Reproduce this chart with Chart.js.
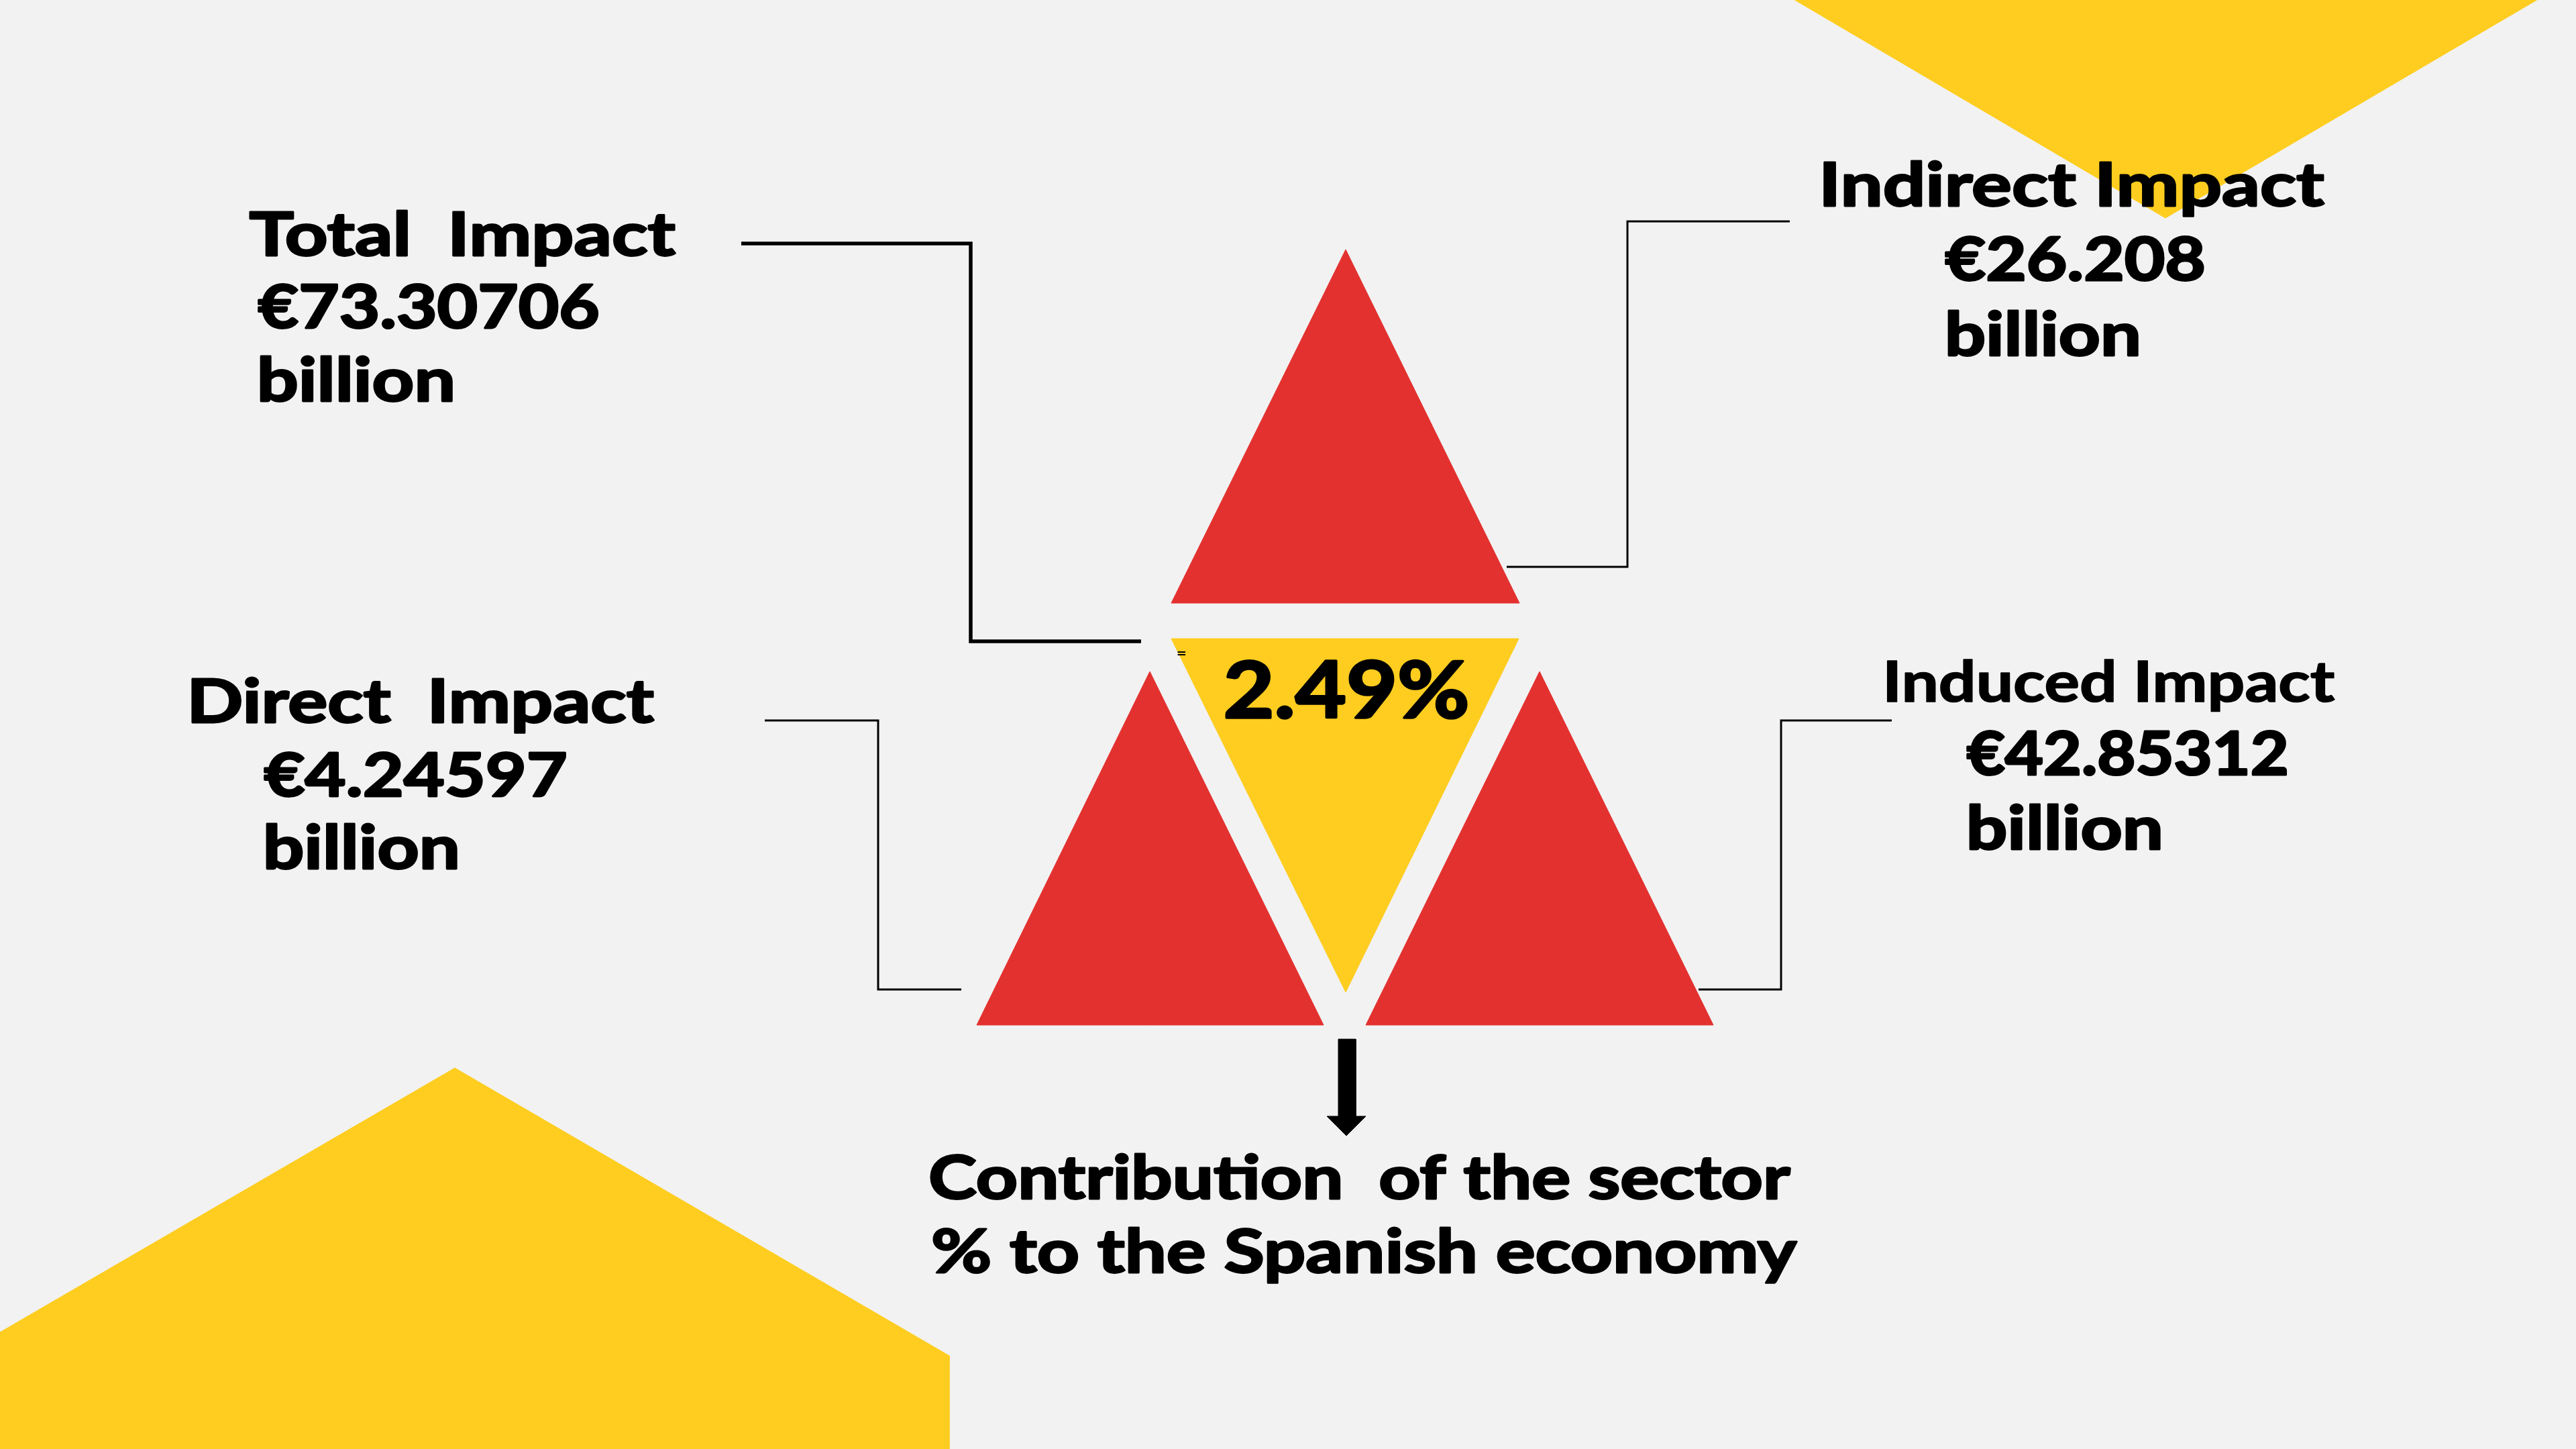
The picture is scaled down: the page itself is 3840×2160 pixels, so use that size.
<!DOCTYPE html>
<html lang="en">
<head>
    <meta charset="UTF-8">
    <title>Economic impact of the sector</title>
    <script src="https://cdn.jsdelivr.net/npm/chart.js"></script>
    <style>
        html, body { margin: 0; padding: 0; background: #f2f2f2; overflow: hidden; }
        #wrap { width: 3840px; height: 2160px; }
    </style>
</head>
<body>
    <div id="wrap"><canvas id="impactChart" width="3840" height="2160"></canvas></div>

    <script>
        // --- data ---
        const impactLabels = ['Total  Impact', 'Indirect Impact', 'Direct  Impact', 'Induced Impact'];
        const impactValues = [73.30706, 26.208, 4.24597, 42.85312];
        const impactUnit = 'billion';
        const sectorShare = 2.49;
        const footerLines = ['Contribution  of the sector', '% to the Spanish economy'];

        // --- layout (canvas units, y down) ---
        const RED = '#e3312f';
        const YELLOW = '#fecd1f';

        const shapes = [
            { pts: [[2006, 372], [2265, 899], [1746, 899]], color: RED },
            { pts: [[1746, 952], [2264, 952], [2006, 1479]], color: YELLOW },
            { pts: [[1714, 1001], [1973, 1528], [1456, 1528]], color: RED },
            { pts: [[2295, 1001], [2554, 1528], [2036, 1528]], color: RED },
            { pts: [[2667, -5], [3790, -5], [3228, 325]], color: YELLOW },
            { pts: [[0, 1986], [678, 1592], [1415, 2021], [1415, 2165], [0, 2165]], color: YELLOW },
            { pts: [[1995, 1549], [2021, 1549], [2021, 1666], [1995, 1666]], color: '#000' },
            { pts: [[1978, 1664], [2036, 1664], [2007, 1693]], color: '#000' }
        ];

        // connector lines: total, indirect, direct, induced
        const connectors = [
            { pts: [[1105, 363], [1447, 363], [1447, 956], [1701, 956]], width: 5.5 },
            { pts: [[2668, 330], [2426, 330], [2426, 845], [2246, 845]], width: 3 },
            { pts: [[1140, 1074], [1309, 1074], [1309, 1475], [1433, 1475]], width: 3 },
            { pts: [[2820, 1074], [2655, 1074], [2655, 1475], [2532, 1475]], width: 3 }
        ];

        // [left, baseline, ink width]
        const labelPos = [[371, 383, 637], [2718, 309, 748], [285, 1079, 691], [2812, 1047, 669]];
        const valuePos = [[384, 491, 509], [2899, 420, 387], [393, 1189, 452], [2931, 1157, 479]];
        const unitPos = [[387, 600, 288], [2903, 532, 285], [396, 1297, 286], [2935, 1268, 286]];
        const sharePos = [1826, 1072, 362];
        const footerPos = [[1386, 1789, 1284], [1390, 1899, 1290]];

        const FONT = 'Lato, "Open Sans", sans-serif';

        const texts = [];
        impactLabels.forEach((lab, i) => {
            texts.push({ text: lab, pos: labelPos[i], size: i === 3 ? 84 : 90, stroke: i === 3 ? 2 : 3.5 });
            texts.push({ text: '€' + impactValues[i], pos: valuePos[i], size: 90, stroke: 3.5 });
            texts.push({ text: impactUnit, pos: unitPos[i], size: 90, stroke: 3.5 });
        });
        texts.push({ text: sectorShare + '%', pos: sharePos, size: 116, stroke: 4 });
        footerLines.forEach((line, i) => {
            texts.push({ text: line, pos: footerPos[i], size: 89, stroke: 3.5 });
        });
        texts.push({ text: '=', pos: [1755, 981, 13], size: 20, stroke: 0 });

        const toXY = pts => pts.map(([x, y]) => ({ x, y }));

        const datasets = [];
        connectors.forEach(c => {
            datasets.push({
                data: toXY(c.pts),
                showLine: true,
                fill: false,
                borderColor: '#000',
                borderWidth: c.width,
                borderJoinStyle: 'miter',
                borderCapStyle: 'butt',
                pointRadius: 0,
                tension: 0
            });
        });
        shapes.forEach(s => {
            const pts = s.pts.concat([s.pts[0]]);
            datasets.push({
                data: toXY(pts),
                showLine: true,
                fill: 'shape',
                backgroundColor: s.color,
                borderColor: s.color,
                borderWidth: 1,
                pointRadius: 0,
                tension: 0
            });
        });

        const backgroundPlugin = {
            id: 'bg',
            beforeDraw(chart) {
                const ctx = chart.ctx;
                ctx.save();
                ctx.fillStyle = '#f2f2f2';
                ctx.fillRect(0, 0, chart.width, chart.height);
                ctx.restore();
            }
        };

        // text is bold Lato, thickened with a thin stroke and fitted to the measured ink width
        const textPlugin = {
            id: 'texts',
            afterDatasetsDraw(chart) {
                const ctx = chart.ctx;
                const sx = chart.scales.x, sy = chart.scales.y;
                texts.forEach(t => {
                    const [x, y, w] = t.pos;
                    ctx.save();
                    ctx.font = 'bold ' + t.size + 'px ' + FONT;
                    ctx.fillStyle = '#000';
                    ctx.strokeStyle = '#000';
                    ctx.lineJoin = 'round';
                    ctx.textBaseline = 'alphabetic';
                    ctx.textAlign = 'left';
                    const m = ctx.measureText(t.text);
                    const ink = m.actualBoundingBoxLeft + m.actualBoundingBoxRight;
                    const k = (w - t.stroke) / ink;
                    ctx.translate(sx.getPixelForValue(x) + t.stroke / 2, sy.getPixelForValue(y) - t.stroke / 2);
                    ctx.scale(k, 1);
                    ctx.fillText(t.text, m.actualBoundingBoxLeft, 0);
                    if (t.stroke > 0) {
                        ctx.lineWidth = t.stroke / k;
                        ctx.strokeText(t.text, m.actualBoundingBoxLeft, 0);
                    }
                    ctx.restore();
                });
            }
        };

        new Chart(document.getElementById('impactChart'), {
            type: 'scatter',
            data: { datasets: datasets },
            options: {
                responsive: false,
                animation: false,
                devicePixelRatio: 1,
                events: [],
                layout: { padding: 0 },
                scales: {
                    x: { type: 'linear', min: 0, max: 3840, display: false },
                    y: { type: 'linear', min: 0, max: 2160, reverse: true, display: false }
                },
                plugins: {
                    legend: { display: false },
                    tooltip: { enabled: false }
                }
            },
            plugins: [backgroundPlugin, textPlugin]
        });
    </script>
</body>
</html>
